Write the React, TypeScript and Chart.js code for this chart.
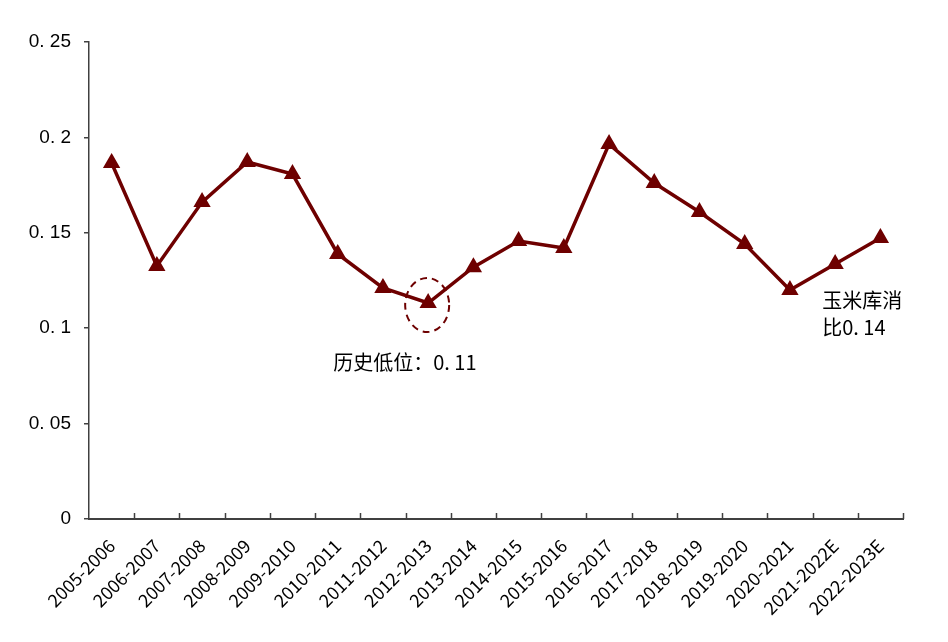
import React, { useEffect, useRef } from "react";
import { Chart, registerables } from "chart.js";

Chart.register(...registerables);

const categories = [
  "2005-2006", "2006-2007", "2007-2008", "2008-2009", "2009-2010", "2010-2011",
  "2011-2012", "2012-2013", "2013-2014", "2014-2015", "2015-2016", "2016-2017",
  "2017-2018", "2018-2019", "2019-2020", "2020-2021", "2021-2022E", "2022-2023E",
];
const stockToUse = [
  0.1866, 0.1326, 0.1661, 0.1871, 0.1808, 0.1389, 0.1211, 0.1132, 0.132,
  0.1457, 0.142, 0.1965, 0.1761, 0.1609, 0.1441, 0.12, 0.1336, 0.1473,
];
const yTicks = [0, 0.05, 0.1, 0.15, 0.2, 0.25];
const lowLabel = "历史低位：0. 11";
const lowIndex = 7;
const endLabel1 = "玉米库消";
const endLabel2 = "比0. 14";

const MAROON = "#6e0000";
const AXIS = "#404040";

const annotationPlugin = {
  id: "annot",
  afterDraw(chart: any) {
    const ctx = chart.ctx;
    const x = chart.scales.x;
    const y = chart.scales.y;
    const area = chart.chartArea;
    ctx.save();
    ctx.strokeStyle = AXIS;
    ctx.lineWidth = 1.5;
    for (let i = 1; i <= categories.length; i++) {
      const px = Math.round((x.getPixelForValue(i - 1) + x.getPixelForValue(i)) / 2);
      const bx = i === categories.length ? area.right : px;
      ctx.beginPath();
      ctx.moveTo(bx + 0.5, area.bottom);
      ctx.lineTo(bx + 0.5, area.bottom - 6);
      ctx.stroke();
    }
    const cx = x.getPixelForValue(lowIndex);
    const cy = y.getPixelForValue(stockToUse[lowIndex]);
    ctx.strokeStyle = MAROON;
    ctx.lineWidth = 2;
    ctx.setLineDash([7, 5]);
    ctx.beginPath();
    ctx.ellipse(cx - 1, cy + 2, 22, 27, 0, 0, Math.PI * 2);
    ctx.stroke();
    ctx.setLineDash([]);
    ctx.fillStyle = "#000";
    ctx.font = '20px "Noto Sans CJK SC", sans-serif';
    ctx.textBaseline = "middle";
    ctx.textAlign = "left";
    ctx.fillText(lowLabel, cx - 95, cy + 59);
    const ex = x.getPixelForValue(16);
    const ey = y.getPixelForValue(stockToUse[16]);
    ctx.fillText(endLabel1, ex - 13, ey + 36);
    ctx.fillText(endLabel2, ex - 13, ey + 63);
    ctx.restore();
  },
};

export default function App() {
  const ref = useRef<HTMLCanvasElement>(null);
  useEffect(() => {
    if (!ref.current) return;
    const chart = new Chart(ref.current, {
      type: "line",
      data: {
        labels: categories,
        datasets: [
          {
            data: stockToUse,
            borderColor: MAROON,
            backgroundColor: MAROON,
            borderWidth: 3.5,
            pointStyle: "triangle",
            pointRadius: 6.5,
            pointBackgroundColor: MAROON,
            pointBorderColor: MAROON,
            tension: 0,
          },
        ],
      },
      options: {
        animation: false,
        responsive: false,
        devicePixelRatio: 1,
        layout: { padding: { top: 42, right: 45, left: 0, bottom: 0 } },
        plugins: { legend: { display: false }, tooltip: { enabled: false } },
        scales: {
          x: {
            offset: true,
            border: { display: true, color: AXIS, width: 2 },
            grid: { display: false },
            ticks: {
              minRotation: 45,
              maxRotation: 45,
              color: "#000",
              padding: 8,
              font: { family: '"Noto Sans CJK SC", sans-serif', size: 18 },
            },
            afterFit(scale: any) {
              scale.height = 123;
            },
          },
          y: {
            min: 0,
            max: 0.25,
            afterBuildTicks(scale: any) {
              scale.ticks = yTicks.map((v) => ({ value: v }));
            },
            border: { display: true, color: AXIS, width: 1.5 },
            grid: {
              drawOnChartArea: false,
              drawTicks: true,
              tickLength: 5,
              color: AXIS,
              lineWidth: 1.5,
            },
            ticks: {
              color: "#000",
              padding: 13,
              font: { family: '"Liberation Sans", sans-serif', size: 19 },
              callback: (v: any) => (v === 0 ? "0" : String(+Number(v).toFixed(2)).replace(".", ". ")),
            },
            afterFit(scale: any) {
              scale.width = 89;
            },
          },
        },
      },
      plugins: [annotationPlugin],
    });
    return () => chart.destroy();
  }, []);
  return (
    <div style={{ position: "fixed", left: 0, top: 0, width: 948, height: 642, background: "#fff" }}>
      <canvas ref={ref} width={948} height={642} style={{ display: "block" }} />
    </div>
  );
}
